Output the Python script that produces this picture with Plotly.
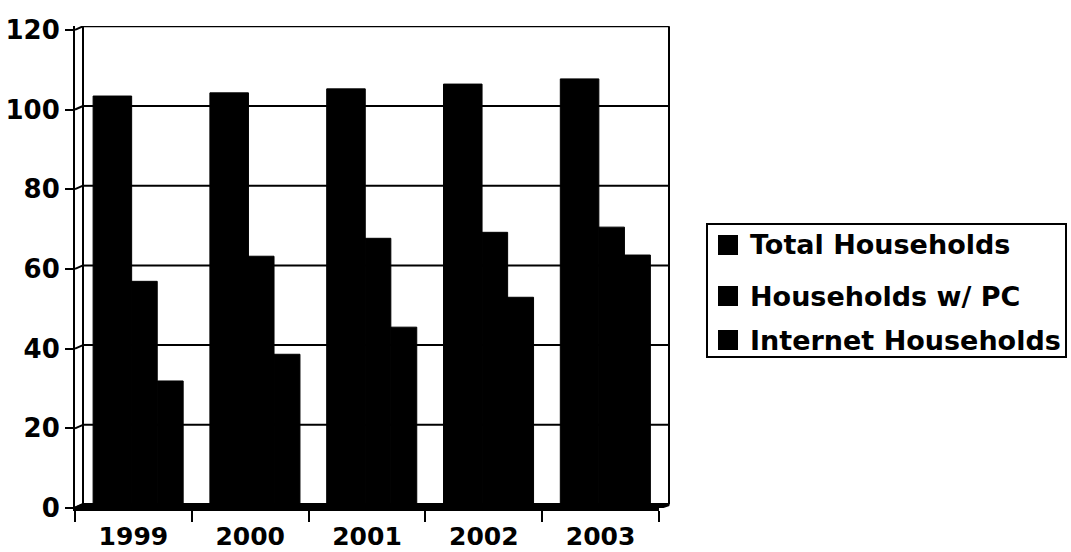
import plotly.graph_objects as go

# Household counts (millions)
years = ["1999", "2000", "2001", "2002", "2003"]
series_names = ["Total Households", "Households w/ PC", "Internet Households"]
total_households = [102.5, 103.3, 104.3, 105.5, 106.8]
pc_households = [56.0, 62.3, 66.8, 68.3, 69.6]
internet_households = [31.0, 37.7, 44.5, 52.0, 62.6]
y_ticks = [0, 20, 40, 60, 80, 100, 120]

W, H = 1071, 552
FONT = dict(family="DejaVu Sans", size=25, color="black", weight="bold")


def fx(p):
    return p / W


def fy(p):
    return 1 - p / H


# pixel frame of the pseudo-3D plot box
FRONT_L, FRONT_R = 75, 659      # front edge of floor
BACK_L, BACK_R = 83, 669        # back wall left/right
TOP, FRONT_BOTTOM = 26, 508
PX_PER_UNIT = 3.985
DEPTH = 3.5 / PX_PER_UNIT       # vertical shift between front and back planes
R_FRONT = (FRONT_BOTTOM - TOP) / PX_PER_UNIT

# bar slots within each category (category units)
slots = [(-0.345, 0.33), (-0.015, 0.219), (0.204, 0.222)]
values = [total_households, pc_households, internet_households]

fig = go.Figure()
for name, vals, (off, wid) in zip(series_names, values, slots):
    fig.add_trace(go.Bar(
        x=years, y=vals, name=name, offset=off, width=wid,
        marker=dict(color="black", line=dict(color="black", width=1)),
        showlegend=False,
    ))

shapes = []
line = dict(color="black", width=2)
# back-wall gridlines and the left-wall diagonals
for v in y_ticks:
    shapes.append(dict(type="line", xref="paper", yref="y", layer="below",
                       x0=fx(BACK_L), x1=fx(BACK_R), y0=v, y1=v, line=line))
    shapes.append(dict(type="line", xref="paper", yref="y", layer="below",
                       x0=fx(FRONT_L), x1=fx(BACK_L), y0=v - DEPTH, y1=v, line=line))
# back-wall left and right edges
shapes.append(dict(type="line", xref="paper", yref="y", layer="below",
                   x0=fx(BACK_L), x1=fx(BACK_L), y0=0, y1=y_ticks[-1], line=line))
shapes.append(dict(type="line", xref="paper", yref="y", layer="below",
                   x0=fx(BACK_R), x1=fx(BACK_R), y0=0, y1=y_ticks[-1], line=line))
# floor strip
shapes.append(dict(type="path", xref="paper", yref="y", layer="above",
                   path=(f"M{fx(FRONT_L)},{-DEPTH} L{fx(FRONT_R)},{-DEPTH} "
                         f"L{fx(BACK_R)},0 L{fx(BACK_L)},0 Z"),
                   fillcolor="black", line=dict(color="black", width=3)))

# legend box
LEG_L, LEG_R, LEG_T, LEG_B = 707, 1066, 224, 357
shapes.append(dict(type="rect", xref="paper", yref="paper",
                   x0=fx(LEG_L), x1=fx(LEG_R), y0=fy(LEG_B), y1=fy(LEG_T),
                   line=dict(color="black", width=2), fillcolor="white"))
annotations = []
for name, yc in zip(series_names, [245, 296, 340]):
    shapes.append(dict(type="rect", xref="paper", yref="paper",
                       x0=fx(718), x1=fx(738), y0=fy(yc + 10), y1=fy(yc - 10),
                       fillcolor="black", line=dict(width=0)))
    annotations.append(dict(text=name, xref="paper", yref="paper",
                            x=fx(748), y=fy(yc), xanchor="left", yanchor="middle",
                            showarrow=False, font=dict(FONT, size=27)))

fig.update_layout(
    width=W, height=H, autosize=False,
    margin=dict(l=0, r=0, t=0, b=0, autoexpand=False),
    paper_bgcolor="white", plot_bgcolor="rgba(0,0,0,0)",
    barmode="overlay",
    shapes=shapes, annotations=annotations,
    xaxis=dict(
        domain=[fx(FRONT_L), fx(FRONT_R)], type="category", automargin=False,
        range=[-0.5, 4.5], showline=True, linecolor="black", linewidth=3,
        ticks="outside", tickson="boundaries", ticklen=11, tickwidth=2,
        tickcolor="black", showgrid=False, zeroline=False,
        tickfont=FONT, ticklabelstandoff=4,
    ),
    # value ticks sit on the front edge of the left wall
    yaxis=dict(
        domain=[fy(FRONT_BOTTOM), fy(TOP)], range=[-DEPTH, R_FRONT - DEPTH],
        automargin=False,
        tickmode="array", tickvals=[v - DEPTH for v in y_ticks],
        ticktext=[str(v) for v in y_ticks],
        showline=True, linecolor="black", linewidth=2,
        ticks="outside", ticklen=8, tickwidth=2, tickcolor="black",
        showgrid=False, zeroline=False, tickfont=dict(FONT, size=26),
    ),
)

fig.write_html("out.html")
